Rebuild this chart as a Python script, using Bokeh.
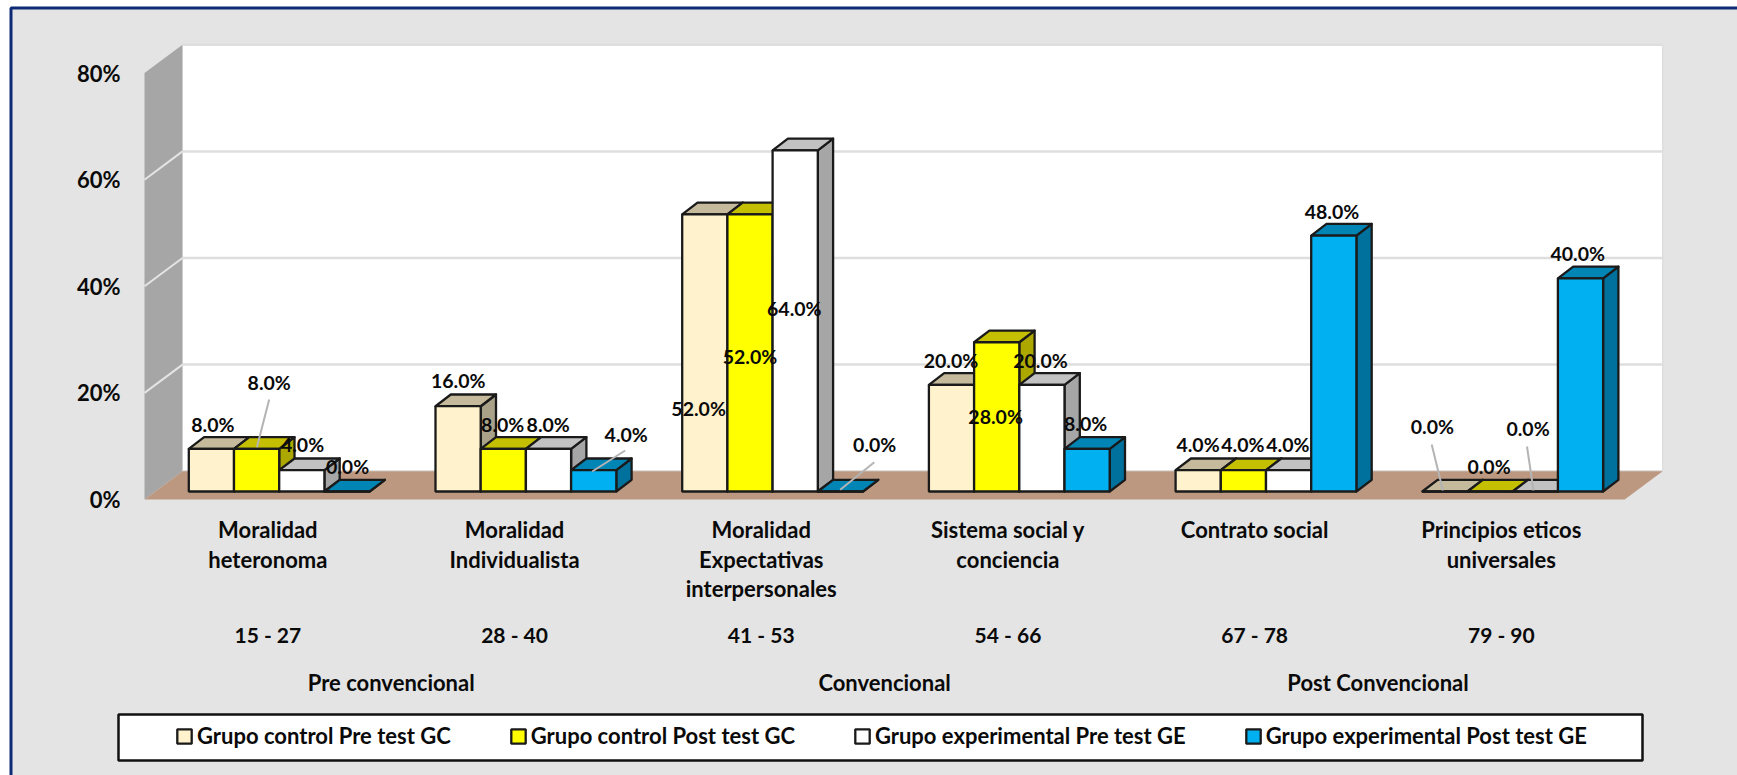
from bokeh.plotting import figure
from bokeh.embed import file_html
from bokeh.resources import INLINE
from bokeh.core.properties import value
from bokeh.models import Range1d, FixedTicker, Legend, LegendItem

# ---- data (percent) ----
categories = [["Moralidad", "heteronoma"], ["Moralidad", "Individualista"],
              ["Moralidad", "Expectativas", "interpersonales"],
              ["Sistema social y", "conciencia"], ["Contrato social"],
              ["Principios eticos", "universales"]]
ranges = ["15 - 27", "28 - 40", "41 - 53", "54 - 66", "67 - 78", "79 - 90"]
levels = ["Pre convencional", "Convencional", "Post Convencional"]
series_names = ["Grupo control Pre test GC", "Grupo control Post test GC",
                "Grupo experimental Pre test GE", "Grupo experimental Post test GE"]
control_pre = [8, 16, 52, 20, 4, 0]
control_post = [8, 8, 52, 28, 4, 0]
experimental_pre = [4, 8, 64, 20, 4, 0]
experimental_post = [0, 4, 0, 8, 48, 40]
y_ticks = [0, 20, 40, 60, 80]

# ---- styles ----
front_colors = ["#FFF2CC", "#FFFF00", "#FFFFFF", "#00B0F0"]
top_colors = ["#C5BA9B", "#C4BF00", "#C2C2C2", "#0085B5"]
side_colors = ["#A9A288", "#ADA800", "#A6A6A6", "#00709C"]
FONT = value("Lato")
INK = "#0A0A0A"
EDGE = "#1A1A1A"

# label offsets in screen px from (bar centre, bar top), one list per series
label_dx = [[1.5, 0.1, -6.2, -0.6, -0.2, -12.5],
            [12.6, -0.6, -0.1, -1.1, -0.5, -1.1],
            [0.7, -0.3, -0.9, -1.4, -0.8, -7.3],
            [0.5, 32.5, 34.3, -1.5, -1.8, -2.8]]
label_dy = [[-24.4, -25.7, 194.2, -24.4, -25.7, -65],
            [-66.7, -24.4, 142.2, 74.2, -25.7, -25],
            [-25.7, -24.4, 158.1, -24.4, -25.7, -63],
            [-25, -35.7, -47, -25.4, -24.5, -25.1]]
# leader lines: (series, group, start dx, start dy, end dx, end dy)
leaders = [(1, 0, 12.6, -49.4, 0.3, -1.7), (3, 1, 31.5, -19.7, -1.5, 1.3),
           (3, 2, 33.9, -29.3, -0.2, -1.7), (0, 5, -13.2, -47, -2, -1),
           (2, 5, -8.3, -45, -1.8, -1)]

# ---- layout constants (px of the 1737x775 canvas) ----
W, H = 1737, 775
X0, SLOT = 144.0, 246.7        # px of category 0 start, px per category
Y0, UNIT = 499.0, 5.33         # px of 0 %, px per 1 %
WALL_DX, WALL_DY = 38.0, 28.3  # floor depth
BAR_INSET_DX, BAR_W = 44.3, 45.2
BASE_PX = 491.0
BAR_DX, BAR_DY = 15.3, 11.7


def X(px):
    return (px - X0) / SLOT


def Y(py):
    return (Y0 - py) / UNIT


DXU = WALL_DX / SLOT
DYU = WALL_DY / UNIT
BASE = Y(BASE_PX)
TOP_V = 80

p = figure(width=W, height=H, output_backend="svg", toolbar_location=None,
           x_range=Range1d(X(0), X(W)), y_range=Range1d(Y(H), Y(0)),
           x_axis_location=None, y_axis_location="left", min_border=0,
           background_fill_color="#FFFFFF", border_fill_color="#FFFFFF",
           outline_line_color=None, margin=(0, -16, -16, 0))
p.grid.visible = False

# page panel with navy frame
p.quad(left=[X(10.5)], right=[X(W + 10)], bottom=[Y(H + 10)], top=[Y(7.5)],
       fill_color="#E4E4E4", line_color="#0F2A75", line_width=3)

# back wall
p.quad(left=[DXU], right=[6 + DXU], bottom=[DYU], top=[TOP_V + DYU],
       fill_color="#FFFFFF", line_color=None)
# side wall
p.patch(x=[0, DXU, DXU, 0], y=[0, DYU, TOP_V + DYU, TOP_V],
        fill_color="#A6A6A6", line_color=None)
# gridlines: back wall and side wall
p.segment(x0=[DXU] * 5, x1=[6 + DXU] * 5, y0=[v + DYU for v in y_ticks],
          y1=[v + DYU for v in y_ticks], line_color="#DEDEDE", line_width=2.5)
p.segment(x0=[0] * 3, x1=[DXU] * 3, y0=y_ticks[1:4],
          y1=[v + DYU for v in y_ticks[1:4]], line_color="#E4E4E4", line_width=2)
p.segment(x0=[6 + DXU], x1=[6 + DXU], y0=[DYU], y1=[TOP_V + DYU],
          line_color="#DEDEDE", line_width=1.5)
# floor
p.patch(x=[0, DXU, 6 + DXU, 6], y=[0, DYU, DYU, 0], fill_color="#BC9880",
        line_color=None)

# bars (painter's order, left to right, back faces first)
series = [control_pre, control_post, experimental_pre, experimental_post]
bdx = BAR_DX / SLOT
bdy = BAR_DY / UNIT
bw = BAR_W / SLOT
legend_renderers = [None] * 4
for g in range(len(categories)):
    for k, vals in enumerate(series):
        v = vals[g]
        x0 = g + (BAR_INSET_DX + BAR_W * k) / SLOT
        x1 = x0 + bw
        top = BASE + v
        p.patch(x=[x1, x1 + bdx, x1 + bdx, x1], y=[BASE, BASE + bdy, top + bdy, top],
                fill_color=side_colors[k], line_color=EDGE, line_width=2.3, line_join="round")
        p.patch(x=[x0, x0 + bdx, x1 + bdx, x1], y=[top, top + bdy, top + bdy, top],
                fill_color=top_colors[k], line_color=EDGE, line_width=2.3, line_join="round")
        r = p.quad(left=[x0], right=[x1], bottom=[BASE], top=[top],
                   fill_color=front_colors[k], line_color=EDGE, line_width=2.3)
        if legend_renderers[k] is None:
            legend_renderers[k] = r


def bar_center(g, k):
    return g + (BAR_INSET_DX + BAR_W * (k + 0.5)) / SLOT


# leader lines
for k, g, sdx, sdy, edx, edy in leaders:
    cx = bar_center(g, k)
    top = BASE + series[k][g]
    p.segment(x0=[cx + sdx / SLOT], y0=[top - sdy / UNIT],
              x1=[cx + edx / SLOT], y1=[top - edy / UNIT],
              line_color="#B4B4B4", line_width=2)

# data labels
for k, vals in enumerate(series):
    xs = [bar_center(g, k) for g in range(len(vals))]
    ys = [BASE + v for v in vals]
    p.text(x=xs, y=ys, text=["%.1f%%" % v for v in vals],
           x_offset=label_dx[k], y_offset=label_dy[k],
           text_font=FONT, text_font_style="bold", text_font_size="19.5px",
           text_color=INK, text_align="center", text_baseline="middle")

# category labels
LINE_PX = [528.5, 558.5, 588]
for g, lines in enumerate(categories):
    p.text(x=[g + 0.5] * len(lines), y=[Y(py) for py in LINE_PX[:len(lines)]], text=lines,
           text_font=FONT, text_font_style="bold", text_font_size="22px",
           text_color=INK, text_align="center", text_baseline="middle")
p.text(x=[g + 0.5 for g in range(6)], y=[Y(633.5)] * 6, text=ranges,
       text_font=FONT, text_font_style="bold", text_font_size="21px",
       text_color=INK, text_align="center", text_baseline="middle")
p.text(x=[1, 3, 5], y=[Y(681.5)] * 3, text=levels,
       text_font=FONT, text_font_style="bold", text_font_size="22px",
       text_color=INK, text_align="center", text_baseline="middle")

# value axis on the front edge of the side wall
ax = p.yaxis[0]
ax.fixed_location = 0
ax.ticker = FixedTicker(ticks=y_ticks)
ax.major_label_overrides = {v: "%d%%" % v for v in y_ticks}
ax.major_label_text_font = "Lato"
ax.major_label_text_font_style = "bold"
ax.major_label_text_font_size = "22px"
ax.major_label_text_color = INK
ax.major_label_standoff = 18
ax.major_tick_line_color = None
ax.minor_tick_line_color = None
ax.axis_line_color = None

# legend box and legend
p.quad(left=[X(118)], right=[X(1642)], bottom=[Y(760)], top=[Y(714)],
       fill_color="#FFFFFF", line_color="#111111", line_width=2.5)
legend = Legend(items=[LegendItem(label=n, renderers=[legend_renderers[i]])
                       for i, n in enumerate(series_names)],
                orientation="horizontal", location=(175, H - 749),
                background_fill_alpha=0, border_line_color=None,
                padding=0, margin=0, spacing=58, glyph_width=18, glyph_height=18,
                label_standoff=4, label_text_font="Lato", label_text_font_style="bold",
                label_text_font_size="22px", label_text_color=INK,
                label_text_baseline="middle", click_policy="none")
p.add_layout(legend, "center")

open("out.html", "w").write(file_html(p, INLINE))
